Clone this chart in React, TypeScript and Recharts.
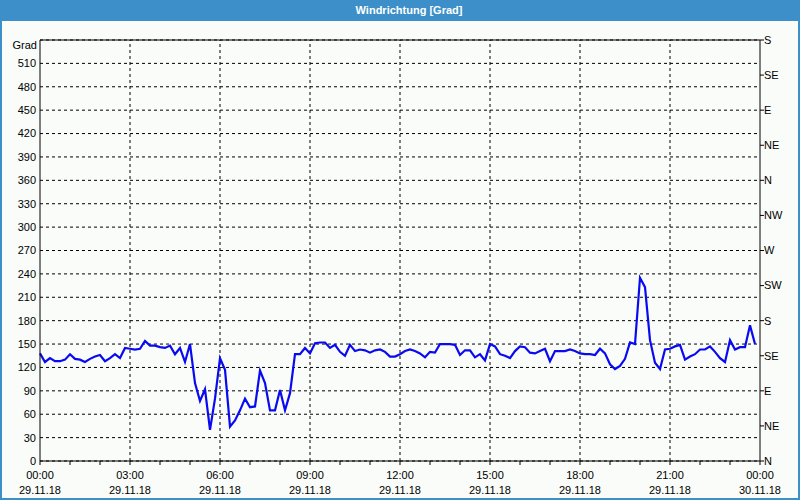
import { LineChart, Line, XAxis, YAxis, CartesianGrid, ReferenceLine } from 'recharts';

// Windrichtung, 10-Minuten-Werte ab 29.11.18 00:00
const direction = [
  138, 127, 132, 128, 128, 130, 137, 131, 130, 127, 131, 134,
  136, 128, 132, 137, 132, 145, 144, 143, 144, 154, 148, 148,
  146, 145, 148, 137, 145, 127, 150, 100, 77, 92, 40, 80,
  132, 117, 44, 52, 65, 80, 69, 70, 116, 100, 65, 65,
  91, 65, 87, 137, 137, 145, 138, 151, 152, 152, 145, 149,
  140, 135, 149, 141, 143, 142, 139, 142, 143, 140, 134, 134,
  137, 141, 143, 141, 138, 133, 140, 139, 150, 150, 150, 149,
  136, 142, 142, 133, 137, 129, 150, 147, 137, 135, 132, 141,
  147, 146, 139, 138, 141, 144, 128, 141, 141, 141, 143, 141,
  138, 137, 137, 136, 144, 138, 124, 118, 122, 131, 152, 150,
  235, 223, 155, 126, 118, 143, 144, 147, 149, 130, 134, 137,
  143, 143, 147, 140, 132, 127, 155, 143, 146, 146, 174, 150,
];

const hourTicks = [0, 60, 120, 180, 240, 300, 360, 420, 480, 540, 600, 660, 720, 780, 840, 900, 960, 1020, 1080, 1140, 1200, 1260, 1320, 1380, 1440];
const labelMinutes = [0, 180, 360, 540, 720, 900, 1080, 1260, 1440];
const timeLabels = ['00:00', '03:00', '06:00', '09:00', '12:00', '15:00', '18:00', '21:00', '00:00'];
const dateLabels = ['29.11.18', '29.11.18', '29.11.18', '29.11.18', '29.11.18', '29.11.18', '29.11.18', '29.11.18', '30.11.18'];
const gridMinutes = [180, 360, 540, 720, 900, 1080, 1260];

const gradTicks = [0, 30, 60, 90, 120, 150, 180, 210, 240, 270, 300, 330, 360, 390, 420, 450, 480, 510];
const compassTicks = [0, 45, 90, 135, 180, 225, 270, 315, 360, 405, 450, 495, 540];
const compassLabels = ['N', 'NE', 'E', 'SE', 'S', 'SW', 'W', 'NW', 'N', 'NE', 'E', 'SE', 'S'];

const data = direction.map((v, i) => ({ minute: i * 10, value: v }));

const FONT = '"Liberation Sans", Arial, sans-serif';

function TimeTick(props: any) {
  const { x, y, payload } = props;
  const idx = labelMinutes.indexOf(payload.value);
  if (idx < 0) return <g />;
  return (
    <text x={x} y={y} textAnchor="middle" fontSize={11} fontFamily={FONT} fill="#000">
      <tspan x={x} dy={12}>{timeLabels[idx]}</tspan>
      <tspan x={x} dy={15}>{dateLabels[idx]}</tspan>
    </text>
  );
}

function CompassTick(props: any) {
  const { x, y, payload } = props;
  const idx = compassTicks.indexOf(payload.value);
  return (
    <text x={x} y={y} dy="0.355em" textAnchor="start" fontSize={11} fontFamily={FONT} fill="#000">
      {compassLabels[idx]}
    </text>
  );
}

export default function App() {
  return (
    <div style={{ position: 'fixed', left: 0, top: 0, width: 800, height: 500, background: '#f9fcf9', fontFamily: FONT }}>
      <LineChart width={800} height={500} data={data} margin={{ top: 40, right: 0, bottom: 0, left: 0 }}>
        <CartesianGrid yAxisId="left" vertical={false} stroke="#000" strokeDasharray="3 3" />
        <XAxis
          dataKey="minute" type="number" domain={[0, 1440]} ticks={hourTicks} interval={0}
          height={39} tickSize={4} tickMargin={2} tick={<TimeTick />}
          axisLine={{ stroke: '#000' }} tickLine={{ stroke: '#000' }}
        />
        <YAxis
          yAxisId="left" domain={[0, 540]} ticks={gradTicks} interval={0} width={40}
          tickSize={0} tickMargin={4} tickLine={false} axisLine={{ stroke: '#000' }}
          tick={{ fontSize: 11, fill: '#000', fontFamily: FONT }}
        />
        <YAxis
          yAxisId="right" orientation="right" type="number" domain={[0, 540]} ticks={compassTicks} interval={0} width={40}
          tickSize={4} tickMargin={0} axisLine={{ stroke: '#000' }} tickLine={{ stroke: '#000' }}
          tick={<CompassTick />}
        />
        {gridMinutes.map(m => (
          <ReferenceLine key={m} x={m} yAxisId="left" stroke="#000" strokeDasharray="3 3" />
        ))}
        <ReferenceLine y={540} yAxisId="left" stroke="#000" />
        <Line
          yAxisId="right" type="linear" dataKey="value" stroke="none" strokeWidth={0}
          dot={false} activeDot={false} isAnimationActive={false}
        />
        <Line
          yAxisId="left" type="linear" dataKey="value" stroke="#0a0af0" strokeWidth={2.2}
          dot={false} isAnimationActive={false}
        />
      </LineChart>
      <div style={{ position: 'absolute', left: 0, top: 0, width: 800, height: 21, background: '#3c8fc8', color: '#fff', fontWeight: 'bold', fontSize: 11, lineHeight: '21px', textAlign: 'center', paddingLeft: 18, boxSizing: 'border-box' }}>
        Windrichtung [Grad]
      </div>
      <div style={{ position: 'absolute', left: 0, top: 21, width: 800, height: 479, boxSizing: 'border-box', borderLeft: '2px solid #3c8fc8', borderRight: '2px solid #3c8fc8', borderBottom: '2px solid #3c8fc8', pointerEvents: 'none' }} />
      <div style={{ position: 'absolute', right: 763, top: 39, fontSize: 11, color: '#000' }}>Grad</div>
    </div>
  );
}
